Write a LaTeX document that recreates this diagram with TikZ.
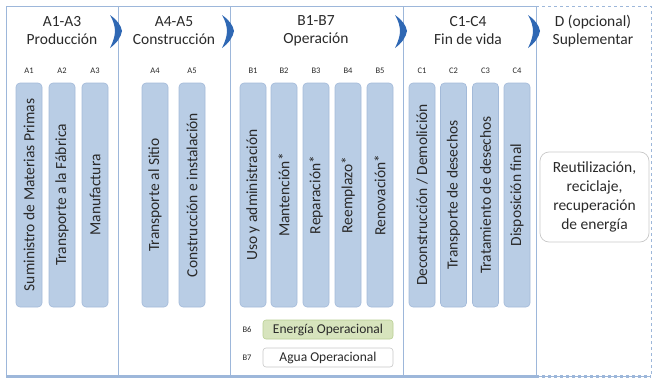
\documentclass[tikz,border=0pt]{standalone}
\usepackage{fontspec}
\setmainfont{Carlito}
\definecolor{frameblue}{HTML}{9DB7DA}
\definecolor{barfill}{HTML}{B9CDE5}
\definecolor{barline}{HTML}{A3BAD9}
\definecolor{chev}{HTML}{2F68B4}
\definecolor{greenfill}{HTML}{D7E4BD}
\definecolor{greenline}{HTML}{B9CF93}
\definecolor{txt}{HTML}{2A2A2A}
\definecolor{boxline}{HTML}{C8C8C8}
\begin{document}
\begin{tikzpicture}[x=1pt,y=-1pt,
  every node/.style={text=txt},
  hdr/.style={font=\fontsize{15.5}{18}\selectfont, align=center, inner sep=0pt},
  lbl/.style={font=\fontsize{8.5}{9}\selectfont, inner sep=0pt},
  bar/.style={draw=barline, fill=barfill, rounded corners=4pt, line width=0.6pt},
  bartext/.style={font=\fontsize{15.5}{17}\selectfont, rotate=90, inner sep=0pt},
  chevron/.style={fill=chev, draw=none},
  panel/.style={draw=frameblue, line width=0.9pt}
]
\useasboundingbox (0,0) rectangle (654,380);
% panels
\draw[panel] (6,6) rectangle (118,376);
\draw[panel] (118,6) rectangle (230,376);
\draw[panel] (230,6) rectangle (403,376);
\draw[panel] (403,6) rectangle (536,376);
\draw[draw=frameblue, line width=0.9pt, dashed] (536,6) -- (651,6) -- (651,376) -- (536,376);
\draw[draw=frameblue, line width=2.4pt] (6,376.5) -- (536,376.5);
\draw[draw=frameblue, line width=2.4pt, dashed] (536,376.5) -- (651,376.5);

% chevrons
\foreach \cx/\nm in {116/ch1, 228/ch2, 401/ch3, 534/ch4}{
  \fill[chevron] (\cx-6,15) .. controls (\cx+1,20) and (\cx+5,25) .. (\cx+6,31)
     .. controls (\cx+5,37) and (\cx+1,43) .. (\cx-6,48)
     .. controls (\cx-3,42) and (\cx-1,36) .. (\cx-1,31)
     .. controls (\cx-1,26) and (\cx-3,20) .. (\cx-6,15) -- cycle;
}

% headers
\node[hdr] (h1) at (62,31) {A1-A3\\Producción};
\node[hdr] (h2) at (174,31) {A4-A5\\Construcción};
\node[hdr] (h3) at (316,31) {B1-B7\\Operación};
\node[hdr] (h4) at (468,31) {C1-C4\\Fin de vida};
\node[hdr] (h5) at (593,31) {D (opcional)\\Suplementar};

% bars
\foreach \x/\id/\t in {
  29/A1/{Suministro de Materias Primas},
  62/A2/{Transporte a la Fábrica},
  95/A3/{Manufactura},
  155/A4/{Transporte al Sitio},
  192/A5/{Construcción e instalación},
  253/B1/{Uso y administración},
  284/B2/{Mantención*},
  316/B3/{Reparación*},
  348/B4/{Reemplazo*},
  380/B5/{Renovación*},
  422/C1/{Deconstrucción / Demolición},
  453.5/C2/{Transporte de desechos},
  485.5/C3/{Tratamiento de desechos},
  517/C4/{Disposición final}}{
  \node[lbl] (l\id) at (\x,71) {\id};
  \draw[bar] (\x-13,83) rectangle (\x+13,307);
  \node[bartext] (t\id) at (\x,195) {\t};
}

% B6, B7
\node[lbl] (lB6) at (247,330) {B6};
\node[lbl] (lB7) at (247,358) {B7};
\draw[draw=greenline, fill=greenfill, rounded corners=3pt, line width=0.6pt] (263,320) rectangle (393,339);
\node[font=\fontsize{13.5}{15}\selectfont, inner sep=0pt] (tB6) at (328,329.5) {Energía Operacional};
\draw[draw=boxline, fill=white, rounded corners=3pt, line width=0.6pt] (263,348) rectangle (393,367);
\node[font=\fontsize{13.5}{15}\selectfont, inner sep=0pt] (tB7) at (328,357.5) {Agua Operacional};

% D box
\node[draw=boxline, rounded corners=9pt, line width=0.7pt, minimum width=109pt, minimum height=90pt, align=center,
      font=\fontsize{15.5}{19}\selectfont, inner sep=2pt] (dbox) at (594.5,197) {Reutilización,\\reciclaje,\\recuperación\\de energía};
\end{tikzpicture}
\end{document}
